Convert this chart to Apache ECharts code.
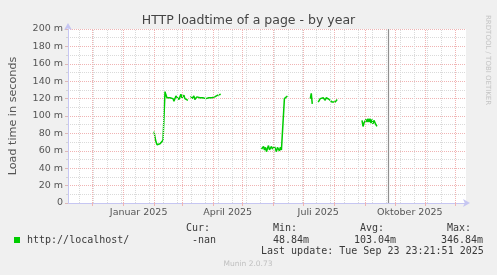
<!DOCTYPE html>
<html><head><meta charset="utf-8">
<script src="https://cdn.jsdelivr.net/npm/echarts@6/dist/echarts.min.js"></script>
<style>html,body{margin:0;padding:0;background:#f0f0f0}#c{width:497px;height:275px}</style>
</head><body><div id="c"></div>
<script>
// ---- data ----
const axisStart = '2024-11-06T12:00';
const axisEnd = '2025-12-11T12:00';
const nowTime = '2025-09-23T23:21';
const monthStarts = ['2024-12-01','2025-01-01','2025-02-01','2025-03-01','2025-04-01','2025-05-01','2025-06-01','2025-07-01','2025-08-01','2025-09-01','2025-10-01','2025-11-01','2025-12-01'];
const firstMinorMonday = '2024-11-18';
const tickLabels = ['Januar 2025','April 2025','Juli 2025','Oktober 2025'];
const tickLabelDates = ['2025-01-16T12:00','2025-04-16T00:00','2025-07-16T00:00','2025-10-16T00:00'];

// daily samples, load time in ms ('-' = no data)
const seg1Start = '2025-02-01';
const seg1Values = [82,75,70,67,65,66,68,67,70,72,74,128,124,121,122,119,121,123,119,120,117,120,123,121,124,119,122,125,121,119,124,120,122,118,118,'-','-',123,120,121,123,119,121,122,120,124,121,119,122,121,120,123,120,122,119,121,120,123,121,123,120,122,123,121,124,123,124,125];
const seg2Start = '2025-04-16';
const seg2Values = [117.5];
const seg3Start = '2025-05-20';
const seg3Values = [62,64,65,61,64,59,63,66,61,60,65,62,60,65,62,59,64,62,60,64,61,63,63,120,121,122,123];
const seg4Start = '2025-07-08';
const seg4Values = [120,126,114];
const seg5Start = '2025-07-16';
const seg5Values = [116,118,120,118,120,121,119,118,121,121,120,119,118,117,116,117,118,116,118,119];
const seg6Start = '2025-08-29';
const seg6Values = [95,88,92,90,96,93,97,93,97,92,96,91,95,93,90,88];

const seriesName = 'http://localhost/';
const statHeaders = ['Cur:','Min:','Avg:','Max:'];
const statValues = ['-nan','48.84m','103.04m','346.84m'];
const lastUpdate = 'Last update: Tue Sep 23 23:21:51 2025';

// ---- build ----
const DAY = 86400000;
const T = s => Date.parse((s.length === 10 ? s + 'T00:00' : s) + ':00Z');
const segs = [[seg1Start,seg1Values],[seg2Start,seg2Values],[seg3Start,seg3Values],[seg4Start,seg4Values],[seg5Start,seg5Values],[seg6Start,seg6Values]];
const data = [];
segs.forEach(([s, vals]) => {
  const t0 = T(s);
  vals.forEach((v, i) => data.push([t0 + i * DAY, v]));
  data.push([t0 + vals.length * DAY, '-']);
});
const xMin = T(axisStart), xMax = T(axisEnd);
const minorLines = [];
for (let t = T(firstMinorMonday); t < xMax; t += 14 * DAY) minorLines.push({xAxis: t});
const labelTs = tickLabelDates.map(T);
const RED = '#f0b4b4', GRAY = '#dadada', AXIS = '#c6c6f2';

const chart = echarts.init(document.getElementById('c'), null, {renderer: 'canvas'});
chart.setOption({
  animation: false,
  backgroundColor: '#f0f0f0',
  title: {
    text: 'HTTP loadtime of a page - by year', left: 'center', top: 9,
    textStyle: {fontFamily: 'DejaVu Sans', fontSize: 12.5, fontWeight: 'normal', color: '#444'}
  },
  grid: {left: 66, top: 29, width: 400, height: 174, show: true, backgroundColor: '#ffffff', borderWidth: 0},
  xAxis: {
    type: 'value', min: xMin, max: xMax,
    axisLine: {show: true, lineStyle: {color: AXIS, width: 1}, symbol: ['none', 'arrow'], symbolSize: [6, 7], symbolOffset: [0, 4]},
    axisTick: {show: true, customValues: monthStarts.map(T), length: 3, lineStyle: {color: RED}},
    axisLabel: {
      customValues: labelTs, margin: 5,
      fontFamily: 'DejaVu Sans', fontSize: 9.5, color: '#555',
      formatter: v => tickLabels[labelTs.indexOf(v)] || ''
    },
    splitLine: {show: false}
  },
  yAxis: {
    type: 'value', min: 0, max: 200, interval: 20,
    name: 'Load time in seconds', nameLocation: 'middle', nameGap: 49,
    nameTextStyle: {fontFamily: 'DejaVu Sans', fontSize: 11.2, color: '#555'},
    axisLine: {show: true, lineStyle: {color: AXIS, width: 1}, symbol: ['none', 'arrow'], symbolSize: [6, 7], symbolOffset: [0, 6]},
    axisTick: {show: true, length: 3, lineStyle: {color: '#dcb8b8'}},
    minorTick: {show: true, splitNumber: 2, length: 2, lineStyle: {color: '#d4d4d4'}},
    axisLabel: {margin: 5, fontFamily: 'DejaVu Sans', fontSize: 9.5, color: '#555', formatter: v => v === 0 ? '0' : v + ' m'},
    splitLine: {show: true, lineStyle: {color: RED, type: [1, 1], width: 1}},
    minorSplitLine: {show: true, lineStyle: {color: GRAY, type: [1, 1], width: 1}}
  },
  series: [
    {
      type: 'line', data: [], z: 1, silent: true,
      markLine: {
        silent: true, symbol: 'none', label: {show: false}, animation: false,
        data: [
          ...minorLines.map(d => ({...d, lineStyle: {color: GRAY, type: [1, 1], width: 1}})),
          ...monthStarts.map(s => ({xAxis: T(s), lineStyle: {color: RED, type: [1, 1], width: 1}})),
          {xAxis: T(nowTime), lineStyle: {color: '#909090', type: 'solid', width: 1.2}}
        ]
      }
    },
    {
      name: seriesName, type: 'line', data: data, z: 3, showSymbol: false, connectNulls: false,
      lineStyle: {color: '#00cc00', width: 1.5}, itemStyle: {color: '#00cc00'}
    }
  ],
  graphic: [
    {type: 'text', x: 488, y: 15, rotation: -Math.PI / 2, style: {text: 'RRDTOOL / TOBI OETIKER', font: '7px "DejaVu Sans"', fill: '#c4c4c4', textAlign: 'left', textVerticalAlign: 'middle'}},
    {type: 'rect', shape: {x: 14, y: 237, width: 6, height: 6}, style: {fill: '#00cc00'}},
    {type: 'text', x: 27, y: 240, style: {text: seriesName, font: '10px "DejaVu Sans Mono"', fill: '#3a3a3a', textVerticalAlign: 'middle'}},
    {type: 'text', x: 186, y: 228, style: {text: statHeaders[0], font: '10px "DejaVu Sans Mono"', fill: '#3a3a3a', textVerticalAlign: 'middle'}},
    {type: 'text', x: 192, y: 240, style: {text: statValues[0], font: '10px "DejaVu Sans Mono"', fill: '#3a3a3a', textVerticalAlign: 'middle'}},
    {type: 'text', x: 273, y: 228, style: {text: statHeaders[1], font: '10px "DejaVu Sans Mono"', fill: '#3a3a3a', textVerticalAlign: 'middle'}},
    {type: 'text', x: 273, y: 240, style: {text: statValues[1], font: '10px "DejaVu Sans Mono"', fill: '#3a3a3a', textVerticalAlign: 'middle'}},
    {type: 'text', x: 360, y: 228, style: {text: statHeaders[2], font: '10px "DejaVu Sans Mono"', fill: '#3a3a3a', textVerticalAlign: 'middle'}},
    {type: 'text', x: 354, y: 240, style: {text: statValues[2], font: '10px "DejaVu Sans Mono"', fill: '#3a3a3a', textVerticalAlign: 'middle'}},
    {type: 'text', x: 447, y: 228, style: {text: statHeaders[3], font: '10px "DejaVu Sans Mono"', fill: '#3a3a3a', textVerticalAlign: 'middle'}},
    {type: 'text', x: 441, y: 240, style: {text: statValues[3], font: '10px "DejaVu Sans Mono"', fill: '#3a3a3a', textVerticalAlign: 'middle'}},
    {type: 'text', x: 261, y: 251.5, style: {text: lastUpdate, font: '10px "DejaVu Sans Mono"', fill: '#3a3a3a', textVerticalAlign: 'middle'}},
    {type: 'text', x: 248, y: 264.5, style: {text: 'Munin 2.0.73', font: '7.5px "DejaVu Sans"', fill: '#c0c0c0', textAlign: 'center', textVerticalAlign: 'middle'}}
  ]
});
</script>
</body></html>
